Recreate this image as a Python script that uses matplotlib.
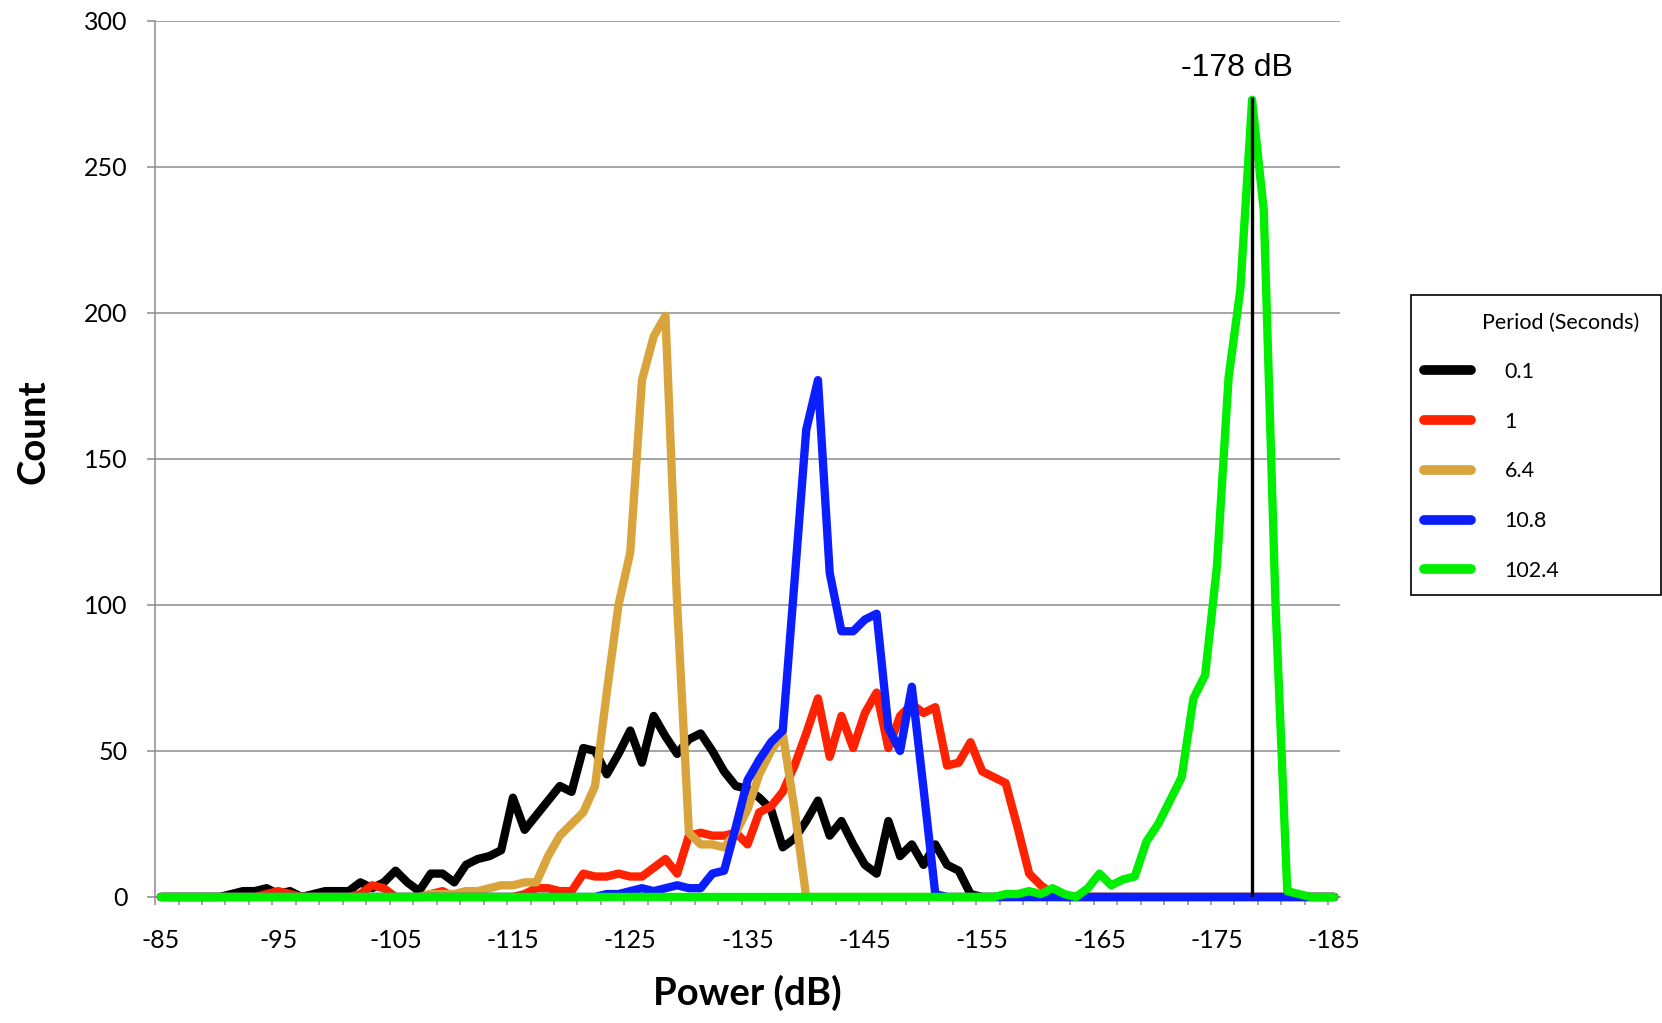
import numpy as np
import matplotlib
matplotlib.use("Agg")
import matplotlib.pyplot as plt
from matplotlib.lines import Line2D
from matplotlib.patches import Rectangle

plt.rcParams['font.family'] = ['Lato', 'DejaVu Sans']
plt.rcParams['axes.unicode_minus'] = False

# categories: power bins in dB (1 dB steps, -85 ... -185)
power_db = np.arange(-85, -186, -1)

# counts per bin
count_0p1 = [0, 0, 0, 0, 0, 0, 1, 2, 2, 3,
             1, 2, 0, 1, 2, 2, 2, 5, 3, 5,
             9, 5, 2, 8, 8, 5, 11, 13, 14, 16,
             34, 23, 28, 33, 38, 36, 51, 50, 42, 49,
             57, 46, 62, 55, 49, 54, 56, 50, 43, 38,
             37, 34, 30, 17, 20, 26, 33, 21, 26, 18,
             11, 8, 26, 14, 18, 11, 18, 11, 9, 1] + [0] * 31

count_1 = [0, 0, 0, 0, 0, 0, 0, 0, 0, 1,
           2, 1, 0, 0, 0, 0, 0, 1, 4, 3,
           0, 0, 0, 1, 2, 0, 0, 0, 0, 0,
           0, 1, 3, 3, 2, 2, 8, 7, 7, 8,
           7, 7, 10, 13, 8, 21, 22, 21, 21, 22,
           18, 29, 31, 36, 45, 56, 68, 48, 62, 51,
           63, 70, 51, 62, 66, 63, 65, 45, 46, 53,
           43, 41, 39, 24, 8, 4, 1] + [0] * 24

count_6p4 = [0] * 23 + [1, 1, 1, 2, 2, 3, 4,
                        4, 5, 5, 14, 21, 25, 29, 38, 70, 100,
                        118, 177, 192, 199, 100, 22, 18, 18, 17, 22,
                        30, 42, 50, 56, 30, 0] + [0] * 45

count_10p8 = [0] * 38 + [1, 1,
                         2, 3, 2, 3, 4, 3, 3, 8, 9, 24,
                         40, 47, 53, 57, 108, 160, 177, 111, 91, 91,
                         95, 97, 58, 50, 72, 37, 1] + [0] * 34

count_102p4 = [0] * 72 + [1, 1, 2,
                          1, 3, 1, 0, 3, 8, 4, 6, 7, 19,
                          25, 33, 41, 68, 76, 113, 178, 208, 273, 235,
                          100, 2, 1, 0, 0, 0]

series = [count_0p1, count_1, count_6p4, count_10p8, count_102p4]
periods = ["0.1", "1", "6.4", "10.8", "102.4"]
colors = ["#000000", "#ff2200", "#d9a43c", "#0a1eff", "#00ee00"]

peak_db = -178
peak_line_top = 274

grid_col = "#8c8c8c"

fig = plt.figure(figsize=(16.62, 10.23), dpi=100)
ax = fig.add_axes([0.0933, 0.1232, 0.7130, 0.8563])

for vals, col in zip(series, colors):
    ax.plot(power_db, vals, color=col, lw=6, solid_capstyle='round',
            solid_joinstyle='round', clip_on=False, zorder=3)

# marker line at the 102.4 s peak
ax.vlines(peak_db, 0, peak_line_top, color='black', lw=2.4, zorder=4)
ax.annotate(f"{peak_db} dB", xy=(peak_db, peak_line_top), xytext=(-11, 21),
            textcoords='offset points', ha='center', va='center',
            fontsize=23, family='Liberation Sans')

ax.set_xlim(-84.5, -185.5)
ax.set_ylim(0, 300)
ax.set_yticks(range(0, 301, 50))
ax.set_xticks(power_db[::10])
ax.set_xticklabels([str(v) for v in power_db[::10]])
ax.set_xticks(np.arange(-84.5, -185, -2), minor=True)

ax.tick_params(axis='x', which='major', length=0, pad=23, labelsize=18)
ax.tick_params(axis='x', which='minor', length=6, width=1.1, color=grid_col)
ax.tick_params(axis='y', length=6, width=1.1, color=grid_col, labelsize=18, pad=14)

ax.grid(axis='y', color=grid_col, lw=1.1)
ax.set_axisbelow(True)
for s in ['top', 'right']:
    ax.spines[s].set_visible(False)
for s in ['left', 'bottom']:
    ax.spines[s].set_color(grid_col)
    ax.spines[s].set_linewidth(1.1)

ax.set_ylabel("Count", fontsize=27.5, fontweight='bold', va='center')
ax.yaxis.set_label_coords(-0.103, 0.531)
ax.set_xlabel("Power (dB)", fontsize=27.5, fontweight='bold', va='center')
ax.xaxis.set_label_coords(0.5, -0.11)

# legend: box + title drawn separately, entries via fig.legend
handles = [Line2D([], [], color=c, lw=7, solid_capstyle='round') for c in colors]
fig.legend(handles, periods, loc='upper left', bbox_to_anchor=(1424 / 1662, 1 - 362 / 1023),
           frameon=False, borderpad=0, borderaxespad=0, handlelength=2.2,
           handletextpad=1.55, labelspacing=1.38, fontsize=15.5)
fig.add_artist(Rectangle((1411 / 1662, 1 - 595 / 1023), 250 / 1662, 300 / 1023,
                         transform=fig.transFigure, fill=False, ec='black', lw=1.2))
fig.text(1561 / 1662, 1 - 323 / 1023, "Period (Seconds)", ha='center', va='center',
         fontsize=15.5)

fig.savefig("out.png", dpi=100)
